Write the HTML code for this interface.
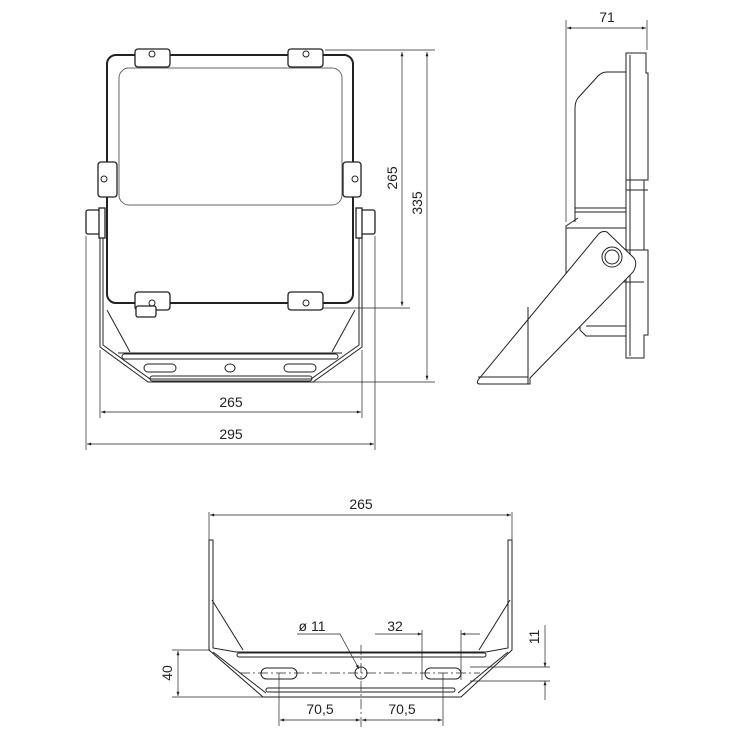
<!DOCTYPE html>
<html><head><meta charset="utf-8"><style>
html,body{margin:0;padding:0;background:#fff}
svg{display:block}
text{font-family:"Liberation Sans",sans-serif;font-size:14px;fill:#222}
</style></head><body>
<svg width="741" height="741" viewBox="0 0 741 741" xmlns="http://www.w3.org/2000/svg">
<defs>
<marker id="a" viewBox="0 0 10 10" refX="10" refY="5" markerWidth="8" markerHeight="6" orient="auto-start-reverse"><path d="M0,1.5 L10,5 L0,8.5z" fill="#222"/></marker>
</defs>
<g fill="none" stroke="#222" stroke-width="1">
<path d="M100,212 V347 L148,382 H313 L362,347 V212"/>
<path d="M103,212 V345 L150,379 H311 L359,345 V212"/>
<path d="M107,310 L130,352 M355,310 L332,352"/>
<line x1="118" y1="353" x2="342" y2="353"/>
<rect x="122" y="354" width="216" height="5" rx="2.5"/>
<rect x="150" y="376" width="162" height="5" rx="2.5"/>
<rect x="144" y="364" width="32" height="8" rx="4"/>
<rect x="284" y="364" width="32" height="8" rx="4"/>
<ellipse cx="230" cy="368" rx="5" ry="4"/>
<rect x="107" y="55" width="246" height="248" rx="9" stroke-width="2" fill="#fff"/>
<rect x="119" y="68" width="223" height="137" rx="10" stroke="#666"/>
<g fill="#fff" stroke-width="1.3">
<rect x="135" y="49" width="35" height="18" rx="3"/>
<rect x="288" y="49" width="35" height="18" rx="3"/>
<rect x="135" y="292" width="35" height="18" rx="3"/>
<rect x="288" y="292" width="35" height="18" rx="3"/>
<rect x="136" y="306" width="20" height="11" rx="2"/>
<rect x="98" y="162" width="19" height="35" rx="3"/>
<rect x="343" y="162" width="18" height="35" rx="3"/>
<rect x="86" y="210" width="14" height="24" rx="2"/>
<rect x="361" y="210" width="14" height="24" rx="2"/>
<rect x="99" y="208" width="6" height="30"/>
<rect x="356" y="208" width="6" height="30"/>
</g>
<g stroke-width="1">
<circle cx="152" cy="54" r="3"/><circle cx="306" cy="54" r="3"/>
<circle cx="152" cy="303" r="3"/><circle cx="306" cy="303" r="3"/>
<circle cx="104" cy="179" r="3"/><circle cx="355" cy="179" r="3"/>
</g>
<g stroke-width="0.7">
<line x1="325" y1="50" x2="435" y2="50"/>
<line x1="323" y1="308" x2="410" y2="308"/>
<line x1="313" y1="382" x2="435" y2="382"/>
<line x1="86" y1="236" x2="86" y2="450"/>
<line x1="375" y1="236" x2="375" y2="450"/>
<line x1="100" y1="350" x2="100" y2="418"/>
<line x1="362" y1="350" x2="362" y2="418"/>
<line x1="402" y1="52" x2="402" y2="306" marker-start="url(#a)" marker-end="url(#a)"/>
<line x1="427" y1="52" x2="427" y2="380" marker-start="url(#a)" marker-end="url(#a)"/>
<line x1="101" y1="412" x2="361" y2="412" marker-start="url(#a)" marker-end="url(#a)"/>
<line x1="87" y1="444" x2="374" y2="444" marker-start="url(#a)" marker-end="url(#a)"/>
</g>
<g stroke-width="1">
<path d="M626,53 H646 V73 H648 V180 H644 V250 H648 V335 H644 V358 H626 Z"/>
<line x1="630" y1="55" x2="630" y2="356"/>
<line x1="626" y1="180" x2="648" y2="180"/><line x1="626" y1="190" x2="648" y2="190"/>
<line x1="626" y1="250" x2="648" y2="250"/>
<path d="M626,72 H607 Q602,72 598,76 L578,98 Q575,102 575,108 V222"/>
<line x1="575" y1="208" x2="626" y2="208"/><line x1="575" y1="212" x2="626" y2="212"/>
<path d="M578,218 L566,226 V290"/>
<line x1="566" y1="228" x2="626" y2="228"/>
<path d="M580,322 V330 L586,336 H626"/><line x1="586" y1="326" x2="626" y2="326"/>
<line x1="614" y1="282" x2="644" y2="282"/>
<path d="M607,232 L634,258 Q638,264 633,272 L530,378 V384 H480 Q476,384 478,380 L597,236 Q601,230 607,232 Z" fill="#fff"/>
<line x1="528" y1="307" x2="528" y2="384"/>
<line x1="478" y1="377" x2="528" y2="377"/>
<circle cx="612" cy="257" r="10"/><circle cx="612" cy="257" r="7"/>
</g>
<g stroke-width="0.7">
<line x1="566" y1="20" x2="566" y2="222"/>
<line x1="647" y1="20" x2="647" y2="50"/>
<line x1="567" y1="28" x2="646" y2="28" marker-start="url(#a)" marker-end="url(#a)"/>
</g>
<g stroke-width="1">
<path d="M209,540 V650 L263,697 H461 L512,650 V540 H508 V648 L486,652 H236 L213,648 V540 Z"/>
<line x1="212" y1="600" x2="243" y2="650"/>
<line x1="510" y1="600" x2="479" y2="650"/>
<path d="M213,652 L266,693 M508,652 L458,693"/>
<rect x="237" y="653" width="249" height="4" rx="2"/>
<rect x="266" y="688" width="189" height="4" rx="2"/>
<rect x="261" y="668" width="36" height="11" rx="5.5"/>
<rect x="425" y="668" width="36" height="11" rx="5.5"/>
<circle cx="361" cy="673" r="6"/>
</g>
<g stroke-width="0.7">
<line x1="240" y1="673" x2="480" y2="673" stroke-dasharray="10,3,2,3"/>
<line x1="361" y1="645" x2="361" y2="727" stroke-dasharray="10,3,2,3"/>
<line x1="209" y1="512" x2="209" y2="540"/><line x1="512" y1="512" x2="512" y2="540"/>
<line x1="210" y1="515" x2="511" y2="515" marker-start="url(#a)" marker-end="url(#a)"/>
<path d="M297,634 H340 L359,669" marker-end="url(#a)"/>
<line x1="422" y1="630" x2="422" y2="680"/><line x1="461" y1="630" x2="461" y2="680"/>
<line x1="375" y1="634" x2="422" y2="634" marker-end="url(#a)"/>
<line x1="480" y1="634" x2="461" y2="634" marker-end="url(#a)"/>
<line x1="470" y1="667" x2="550" y2="667"/><line x1="470" y1="681" x2="550" y2="681"/>
<line x1="545" y1="625" x2="545" y2="667" marker-end="url(#a)"/>
<line x1="545" y1="700" x2="545" y2="681" marker-end="url(#a)"/>
<line x1="172" y1="650" x2="210" y2="650"/><line x1="172" y1="697" x2="263" y2="697"/>
<line x1="178" y1="651" x2="178" y2="696" marker-start="url(#a)" marker-end="url(#a)"/>
<line x1="279" y1="673" x2="279" y2="726"/><line x1="443" y1="673" x2="443" y2="726"/>
<line x1="280" y1="720" x2="360" y2="720" marker-start="url(#a)" marker-end="url(#a)"/>
<line x1="362" y1="720" x2="442" y2="720" marker-start="url(#a)" marker-end="url(#a)"/>
</g>
</g>
<text x="231" y="407" text-anchor="middle">265</text>
<text x="231" y="439" text-anchor="middle">295</text>
<text transform="translate(397,178) rotate(-90)" text-anchor="middle">265</text>
<text transform="translate(422,203) rotate(-90)" text-anchor="middle">335</text>
<text x="607" y="22" text-anchor="middle">71</text>
<text x="361" y="509" text-anchor="middle">265</text>
<text x="312" y="631" text-anchor="middle">ø 11</text>
<text x="395" y="631" text-anchor="middle">32</text>
<text transform="translate(539,637) rotate(-90)" text-anchor="middle">11</text>
<text transform="translate(172,673) rotate(-90)" text-anchor="middle">40</text>
<text x="320" y="714" text-anchor="middle">70,5</text>
<text x="402" y="714" text-anchor="middle">70,5</text>
</svg>
</body></html>
